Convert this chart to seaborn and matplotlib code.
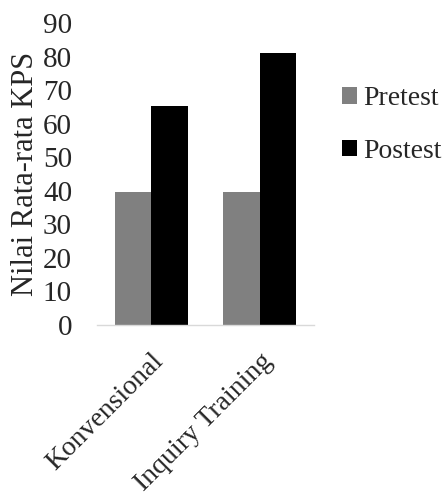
import matplotlib
matplotlib.use("Agg")
import matplotlib.pyplot as plt
import seaborn as sns
import pandas as pd

# Mean KPS scores per class, before and after treatment
kelas = ["Konvensional", "Inquiry Training"]
pretest = [39.5, 39.5]
postest = [65.3, 81.0]
tes_labels = ["Pretest", "Postest"]
y_ticks = [0, 10, 20, 30, 40, 50, 60, 70, 80, 90]

df = pd.DataFrame({
    "Kelas": kelas * 2,
    "Nilai": pretest + postest,
    "Tes": [tes_labels[0]] * len(kelas) + [tes_labels[1]] * len(kelas),
})

sns.set_style("white")
plt.rcParams["font.family"] = ["Liberation Serif", "DejaVu Serif"]

fig = plt.figure(figsize=(4.44, 4.97), dpi=100)
ax = fig.add_axes([97 / 444, 1 - 325 / 497, 217 / 444, 302 / 497])

sns.barplot(data=df, x="Kelas", y="Nilai", hue="Tes", hue_order=tes_labels,
            palette=["#808080", "#000000"], saturation=1, width=0.67,
            linewidth=0, ax=ax, legend=True)

ax.set_ylim(0, 90)
ax.set_xlim(-0.5, 1.5)
ax.set_yticks(y_ticks)
ax.set_yticklabels([str(v) for v in y_ticks], fontsize=21)
ax.tick_params(axis="y", length=0, pad=18)

# category separators as small downward ticks on the x axis
ax.set_xticks([-0.5, 0.5, 1.5], minor=True)
ax.tick_params(axis="x", which="minor", length=7, color="#d9d9d9", width=1)
ax.tick_params(axis="x", which="major", length=0, pad=17)
ax.set_xticks(range(len(kelas)))
ax.set_xticklabels(kelas, fontsize=20, rotation=45, ha="right",
                   va="top", rotation_mode="anchor")

for side in ["top", "right", "left"]:
    ax.spines[side].set_visible(False)
ax.spines["bottom"].set_color("#d9d9d9")
ax.spines["bottom"].set_linewidth(1)

ax.set_xlabel("")
ax.set_ylabel("Nilai Rata-rata KPS", fontsize=22, labelpad=2)

handles, labels = ax.get_legend_handles_labels()
ax.legend(handles, labels, loc="center left", bbox_to_anchor=(1.129, 0.662),
          frameon=False, fontsize=20, handlelength=0.54, handleheight=0.54,
          handletextpad=0.22, labelspacing=1.0, borderaxespad=0, borderpad=0)

fig.savefig("out.png", dpi=100)
